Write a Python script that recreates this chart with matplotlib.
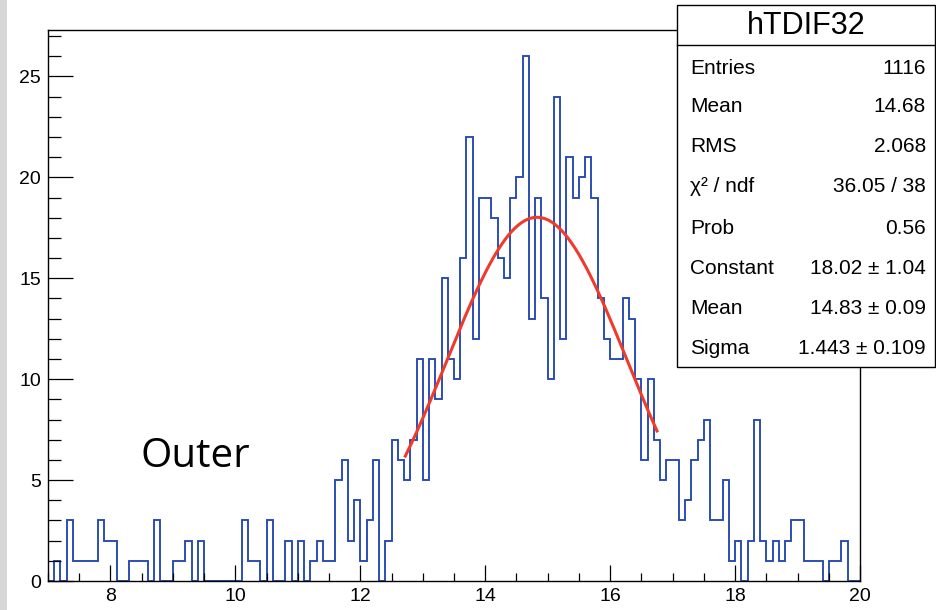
import numpy as np
import matplotlib
matplotlib.use("Agg")
import matplotlib.pyplot as plt
from matplotlib.patches import Rectangle
from matplotlib.lines import Line2D

# histogram hTDIF32: 130 bins of 0.1 from 7 to 20
xlow, xhigh, nbins = 7.0, 20.0, 130
counts = [
    0, 1, 0, 3, 1, 1, 1, 1, 3, 2,        # 7.0 - 7.9
    2, 0, 0, 1, 1, 1, 0, 3, 0, 0,        # 8.0 - 8.9
    1, 1, 2, 0, 2, 0, 0, 0, 0, 0,        # 9.0 - 9.9
    0, 3, 1, 1, 0, 3, 0, 0, 2, 0,        # 10.0 - 10.9
    2, 0, 1, 2, 1, 1, 5, 6, 2, 4,        # 11.0 - 11.9
    1, 3, 6, 0, 2, 7, 6, 5, 7, 11,       # 12.0 - 12.9
    5, 11, 9, 15, 11, 10, 16, 22, 12, 19,  # 13.0 - 13.9
    19, 18, 16, 15, 19, 20, 26, 13, 19, 14,  # 14.0 - 14.9
    10, 24, 12, 21, 19, 20, 21, 19, 14, 12,  # 15.0 - 15.9
    11, 11, 14, 13, 10, 6, 10, 7, 5, 6,  # 16.0 - 16.9
    6, 3, 4, 6, 7, 8, 3, 3, 5, 1,        # 17.0 - 17.9
    2, 0, 2, 8, 2, 1, 2, 1, 2, 3,        # 18.0 - 18.9
    3, 1, 1, 1, 0, 1, 1, 2, 0, 0,        # 19.0 - 19.9
]

# gaus fit result
fit_const, fit_mean, fit_sigma = 18.02, 14.83, 1.443
fit_range = (12.72, 16.75)

stat_labels = ["Entries", "Mean", "RMS", "\u03c7\u00b2 / ndf", "Prob",
               "Constant", "Mean", "Sigma"]
stat_values = ["1116", "14.68", "2.068", "36.05 / 38", "0.56",
               "18.02 \u00b1 1.04", "14.83 \u00b1 0.09", "1.443 \u00b1 0.109"]
hist_name = "hTDIF32"

plt.rcParams['font.family'] = ['Liberation Sans', 'DejaVu Sans']

W, H = 937, 610
fig = plt.figure(figsize=(W / 100, H / 100), dpi=100)

# gray strip at the left edge of the screenshot
fig.patches.append(Rectangle((0, 0), 7 / W, 1, transform=fig.transFigure,
                             facecolor='#d6d6d6', edgecolor='none', zorder=0))

ax = fig.add_axes([48 / W, 1 - 581 / H, (860 - 48) / W, (581 - 30) / H])
edges = np.linspace(xlow, xhigh, nbins + 1)
ax.stairs(counts, edges, color='#2448b2', linewidth=1.35)

xf = np.linspace(fit_range[0], fit_range[1], 200)
yf = fit_const * np.exp(-0.5 * ((xf - fit_mean) / fit_sigma) ** 2)
ax.plot(xf, yf, color='#ee3b2b', linewidth=2.2)

ax.set_xlim(xlow, xhigh)
ax.set_ylim(0, 27.3)
ax.set_xticks(np.arange(8, 21, 2))
ax.set_xticks(np.arange(7, 20.01, 0.5), minor=True)
ax.set_yticks(np.arange(0, 26, 5))
ax.set_yticks(np.arange(0, 28, 1), minor=True)
ax.tick_params(axis='both', which='both', direction='in', width=0.9,
               labelsize=14, colors='black')
ax.tick_params(axis='x', which='major', length=11.5, pad=5)
ax.tick_params(axis='x', which='minor', length=6)
ax.tick_params(axis='y', which='major', length=18, pad=5)
ax.tick_params(axis='y', which='minor', length=9.5)
for s in ax.spines.values():
    s.set_linewidth(1.0)

ax.text(141 / W, 1 - 467 / H, "Outer", transform=fig.transFigure,
        fontsize=29, family=['Open Sans', 'DejaVu Sans'], va='baseline', ha='left')

# stats box
bx0, bx1, by0, by1, bsep = 677, 935, 5, 367, 45
fig.patches.append(Rectangle((bx0 / W, 1 - by1 / H), (bx1 - bx0) / W, (by1 - by0) / H,
                             transform=fig.transFigure, facecolor='white',
                             edgecolor='black', linewidth=1.0, zorder=5))
fig.lines.append(Line2D([bx0 / W, bx1 / W], [1 - bsep / H, 1 - bsep / H],
                        transform=fig.transFigure, color='black', linewidth=1.0, zorder=6))
fig.text((bx0 + bx1) / 2 / W, 1 - 26 / H, hist_name, ha='center', va='center',
         fontsize=22, zorder=7)
row_y = [68, 107, 147, 187, 228, 268, 308, 348]
for yy, lab, val in zip(row_y, stat_labels, stat_values):
    fig.text(690 / W, 1 - yy / H, lab, ha='left', va='center', fontsize=15, zorder=7)
    fig.text(926 / W, 1 - yy / H, val, ha='right', va='center', fontsize=15, zorder=7)

fig.savefig("out.png", dpi=100)
